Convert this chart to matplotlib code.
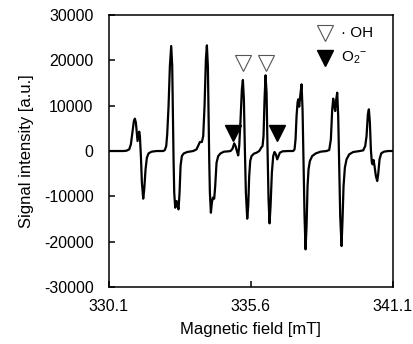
import matplotlib.pyplot as plt

plt.rcParams["font.family"] = ["Liberation Sans", "DejaVu Sans"]
plt.rcParams["mathtext.fontset"] = "custom"
plt.rcParams["mathtext.rm"] = "Liberation Sans"
plt.rcParams["mathtext.it"] = "Liberation Sans"
plt.rcParams["axes.unicode_minus"] = False

# === Espectro (campo [mT], intensidad [a.u.]) ===
campo = [
    330.113, 330.655, 330.784, 330.888, 330.952, 331.017, 331.068, 331.107, 331.146, 331.185,
    331.210, 331.249, 331.275, 331.301, 331.340, 331.378, 331.430, 331.469, 331.520, 331.572,
    331.636, 331.753, 331.946, 332.205,
    332.269, 332.321, 332.359, 332.411, 332.463, 332.514, 332.553, 332.579, 332.605, 332.631,
    332.669, 332.695, 332.721, 332.760, 332.798, 332.837, 332.876, 332.927, 333.005, 333.134,
    333.366,
    333.496, 333.586, 333.625, 333.702, 333.754, 333.805, 333.857, 333.896, 333.934, 333.960,
    333.986, 334.012, 334.051, 334.089, 334.128, 334.180, 334.218, 334.270, 334.335, 334.425,
    334.554, 334.722,
    334.812, 334.890, 334.954, 335.006, 335.058, 335.109, 335.148, 335.200, 335.251, 335.290,
    335.329, 335.367, 335.406, 335.458, 335.497, 335.535, 335.574, 335.626, 335.716, 335.819,
    335.923, 336.000, 336.052, 336.090, 336.129, 336.168, 336.207, 336.245, 336.284, 336.323,
    336.362, 336.413, 336.465, 336.516, 336.568, 336.620, 336.671, 336.723, 336.826, 337.046,
    337.239,
    337.291, 337.330, 337.369, 337.407, 337.433, 337.472, 337.511, 337.562, 337.601, 337.640,
    337.678, 337.717, 337.756, 337.795, 337.833, 337.885, 337.975, 338.117, 338.298, 338.530,
    338.634, 338.698, 338.750, 338.789, 338.827, 338.866, 338.905, 338.944, 338.982, 339.021,
    339.060, 339.111, 339.150, 339.189, 339.240, 339.305, 339.408, 339.563, 339.821,
    339.951, 340.028, 340.080, 340.131, 340.170, 340.209, 340.247, 340.286, 340.312, 340.351,
    340.389, 340.441, 340.493, 340.531, 340.583, 340.648, 340.751, 340.919, 341.087,
]
intensidad = [
    0, 0, 70, 370, 1470, 4420, 6620, 7140, 6260, 3680,
    2210, 3460, 4270, 3310, -1100, -6990, -10520, -8460, -4050, -1470,
    -520, -150, 0, 0,
    220, 1100, 3680, 9940, 18770, 23180, 18770, 7730, -1840, -9200,
    -12510, -11780, -11040, -12140, -12880, -9200, -3310, -1100, -520, -220,
    0,
    370, 1470, 1990, 1990, 3310, 9940, 20240, 23330, 18770, 7730,
    -1840, -9200, -13620, -11410, -10300, -10520, -7730, -2580, -1100, -520,
    -150, -70,
    0, 520, 1690, 1100, 0, -960, 1100, 6990, 13620, 15680,
    11410, 370, -9200, -14940, -12140, -5520, -2210, -1100, -590, -370,
    0, 740, 1100, 3310, 11410, 16710, 12880, 370, -10670, -15970,
    -12140, -4780, -1100, -220, -740, -1840, -1100, -370, -70, 0,
    0,
    370, 2580, 7730, 10670, 11410, 9790, 12140, 14720, 9200, -3310,
    -14350, -21710, -16560, -7730, -4050, -2210, -1100, -520, -150, 0,
    220, 2580, 9200, 11560, 9940, 8830, 11410, 12880, 7730, -3310,
    -14350, -20980, -15090, -7730, -3680, -1840, -740, -220, 0,
    150, 1100, 3310, 8100, 9200, 6260, 370, -2580, -2940, -1990,
    -3310, -5520, -6620, -5150, -1840, -520, -150, 0, 0,
]

# Posiciones de los marcadores
oh_campo = [335.303, 336.181]
oh_y = [19500, 19500]
o2_campo = [334.890, 336.607]
o2_y = [4050, 4050]

xticks = [330.1, 335.6, 341.1]
yticks = [-30000, -20000, -10000, 0, 10000, 20000, 30000]

# === Crear la figura ===
fig = plt.figure(figsize=(4.14, 3.44), dpi=100)
ax = fig.add_axes([0.263, 0.166, 0.686, 0.790])

ax.plot(campo, intensidad, color="black", linewidth=1.6)
ax.plot(oh_campo, oh_y, linestyle="none", marker="v", markersize=11.5,
        markerfacecolor="white", markeredgecolor="#555555", markeredgewidth=0.8)
ax.plot(o2_campo, o2_y, linestyle="none", marker="v", markersize=11.5,
        markerfacecolor="black", markeredgecolor="black")

# Leyenda manual
ax.plot([338.466], [26130], linestyle="none", marker="v", markersize=11.5,
        markerfacecolor="white", markeredgecolor="#555555", markeredgewidth=0.8)
ax.plot([338.466], [20610], linestyle="none", marker="v", markersize=11.5,
        markerfacecolor="black", markeredgecolor="black")
ax.text(339.1, 26130, "\u00b7 OH", fontsize=11, va="center")
ax.text(339.1, 20610, r"O$_2$$^{-}$", fontsize=11, va="center")

ax.set_xlim(330.1, 341.1)
ax.set_ylim(-30000, 30000)
ax.set_xticks(xticks)
ax.set_xticklabels([f"{t:.1f}" for t in xticks])
ax.set_yticks(yticks)
ax.tick_params(direction="in", length=4, width=1.1, labelsize=11.5)
ax.tick_params(axis="x", pad=9)
ax.tick_params(axis="y", pad=11)
for s in ax.spines.values():
    s.set_linewidth(1.1)

ax.set_xlabel("Magnetic field [mT]", fontsize=12)
ax.set_ylabel("Signal intensity [a.u.]", fontsize=12)
ax.xaxis.set_label_coords(0.5, -0.128)
ax.yaxis.set_label_coords(-0.265, 0.5)

plt.savefig("out.png", dpi=100)
